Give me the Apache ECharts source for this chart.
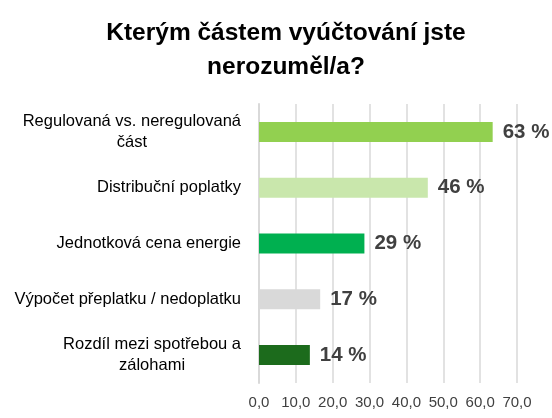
<!DOCTYPE html>
<html>
<head>
<meta charset="utf-8">
<script src="https://cdn.jsdelivr.net/npm/echarts@6/dist/echarts.min.js"></script>
<style>
  html, body { margin: 0; padding: 0; background: #fff; }
  #chart { width: 552px; height: 418px; }
</style>
</head>
<body>
<div id="chart"></div>
<script>
const titleText = 'Kterým částem vyúčtování jste\nnerozuměl/a?'
const categories = [
  'Regulovaná vs. neregulovaná\nčást',
  'Distribuční poplatky',
  'Jednotková cena energie',
  'Výpočet přeplatku / nedoplatku',
  'Rozdíl mezi spotřebou a\nzálohami'
]
const values = [63.4, 45.8, 28.6, 16.6, 13.8]
const barColors = ['#92D050', '#C9E7AC', '#00B050', '#D9D9D9', '#1C6B1C']

const font = 'Liberation Sans, Arial, sans-serif'
const chart = echarts.init(document.getElementById('chart'))

const option = {
  animation: false,
  title: {
    text: titleText,
    left: 281,
    top: 11,
    textAlign: 'center',
    textStyle: {
      fontFamily: font,
      fontSize: 24.5,
      fontWeight: 'bold',
      color: '#000',
      lineHeight: 34
    }
  },
  grid: {
    left: 259,
    right: 35,
    top: 104,
    bottom: 35,
    containLabel: false
  },
  xAxis: {
    type: 'value',
    min: 0,
    max: 70,
    interval: 10,
    axisLine: { show: false },
    axisTick: { show: false },
    splitLine: { lineStyle: { color: '#D9D9D9', width: 1.5 } },
    axisLabel: {
      margin: 12,
      color: '#404040',
      fontFamily: font,
      fontSize: 15,
      formatter: v => v.toFixed(1).replace('.', ',')
    }
  },
  yAxis: {
    type: 'category',
    inverse: true,
    data: categories,
    axisTick: { show: false },
    axisLine: { lineStyle: { color: '#D9D9D9', width: 2 } },
    axisLabel: {
      margin: 18,
      align: 'right',
      color: '#000',
      fontFamily: font,
      fontSize: 16.5,
      lineHeight: 21,
      // centre each wrapped line inside the label block
      formatter: v => v.split('\n').map(l => '{c|' + l + '}').join('\n'),
      rich: {
        c: { align: 'center', fontFamily: font, fontSize: 16.5, lineHeight: 21, color: '#000' }
      }
    }
  },
  series: [{
    type: 'bar',
    barWidth: 20,
    data: values.map((v, i) => ({ value: v, itemStyle: { color: barColors[i] } })),
    label: {
      show: true,
      position: 'right',
      distance: 10,
      color: '#404040',
      fontFamily: font,
      fontSize: 20.5,
      fontWeight: 'bold',
      formatter: p => Math.round(p.value) + ' %'
    }
  }]
}

chart.setOption(option)
</script>
</body>
</html>
